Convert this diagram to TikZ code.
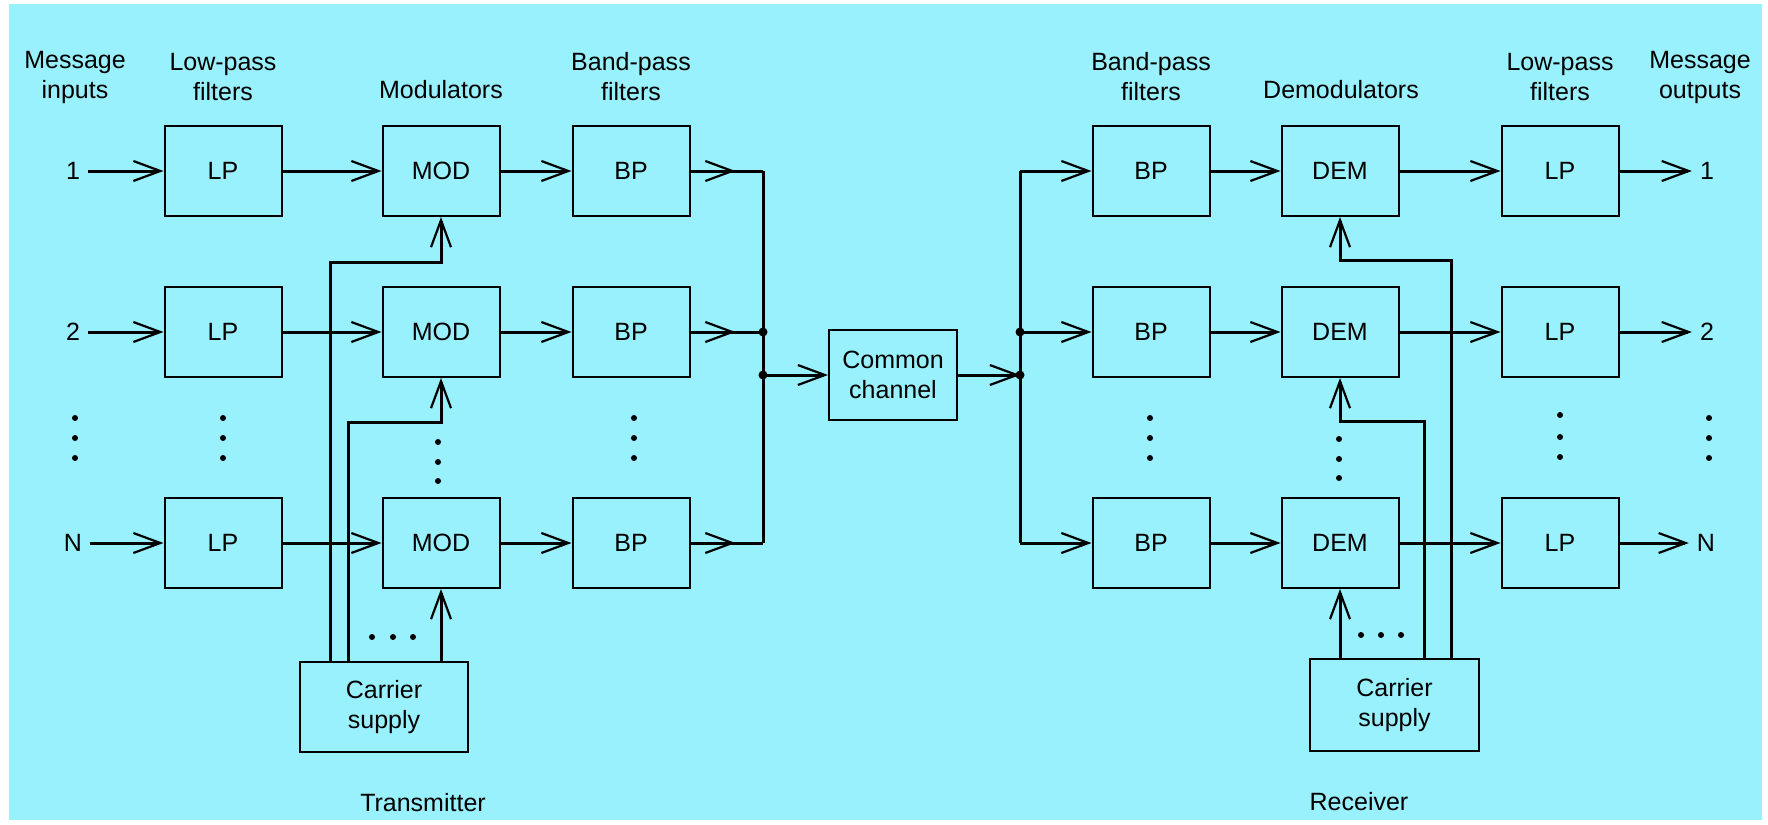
\documentclass[tikz,border=0pt]{standalone}
\usepackage{fontspec}
\setmainfont{Liberation Sans}
\usetikzlibrary{arrows.meta,decorations.markings}
\definecolor{bgc}{RGB}{153,241,253}
\newcommand{\tfnt}{\fontsize{25}{30}\selectfont}
\tikzset{
  blk/.style={draw, line width=2pt, minimum width=117pt, minimum height=90pt, inner sep=0pt, align=center, font=\tfnt},
  lbl/.style={align=center, font=\tfnt, inner sep=0pt},
  num/.style={font=\tfnt, inner ysep=0pt, inner xsep=8pt},
  ln/.style={line width=3pt},
  tip/.tip={Straight Barb[length=27pt,width=20pt,line width=2.2pt]},
  arr/.style={ln, -tip},
  midarr/.style={ln, postaction={decorate}, decoration={markings, mark=at position #1 with {\arrow{tip}}}},
  jdot/.style={fill, circle, inner sep=0pt, minimum size=9pt},
}
\begin{document}
\begin{tikzpicture}[x=1pt,y=-1pt]
\useasboundingbox (0,0) rectangle (1768,824);
\fill[white] (0,0) rectangle (1768,824);
\fill[bgc] (9,4) rectangle (1762,820);

% headings
\node[lbl] (hmi) at (75,77) {Message\\inputs};
\node[lbl] (hlp) at (223,77) {Low-pass\\filters};
\node[lbl] (hmod) at (441,90) {Modulators};
\node[lbl] (hbp) at (631,77) {Band-pass\\filters};
\node[lbl] (hbpr) at (1151,77) {Band-pass\\filters};
\node[lbl] (hdem) at (1341,90) {Demodulators};
\node[lbl] (hlpr) at (1560,77) {Low-pass\\filters};
\node[lbl] (hmo) at (1700,77) {Message\\outputs};

% input labels
\node[num] (in1) at (73,171) {1};
\node[num] (in2) at (73,332) {2};
\node[num] (inN) at (73,543) {N};
\node[num] (out1) at (1707,171) {1};
\node[num] (out2) at (1707,332) {2};
\node[num] (outN) at (1706,543) {N};

% transmitter and receiver blocks
\foreach \r/\y in {1/171,2/332,N/543}{
  \node[blk] (lp\r) at (223,\y) {LP};
  \node[blk] (mod\r) at (441,\y) {MOD};
  \node[blk] (bp\r) at (631,\y) {BP};
  \node[blk] (bpr\r) at (1151,\y) {BP};
  \node[blk] (dem\r) at (1340,\y) {DEM};
  \node[blk] (lpr\r) at (1560,\y) {LP};
}
\node[blk, minimum width=128pt] (cc) at (893,375) {Common\\channel};
\node[blk, minimum width=168pt] (cs1) at (384,707) {Carrier\\supply};
\node[blk, minimum width=169pt, minimum height=92pt] (cs2) at (1394.5,705) {Carrier\\supply};

\node[lbl] (tx) at (423,803) {Transmitter};
\node[lbl] (rx) at (1359,802) {Receiver};

% signal chains
\foreach \r in {1,2,N}{
  \draw[arr] (in\r.east) -- (lp\r.west);
  \draw[arr] (lp\r.east) -- (mod\r.west);
  \draw[arr] (mod\r.east) -- (bp\r.west);
  \draw[arr] (bpr\r.east) -- (dem\r.west);
  \draw[arr] (dem\r.east) -- (lpr\r.west);
  \draw[arr] (lpr\r.east) -- (out\r.west);
}

% combining junction
\coordinate (jt) at (763,171);
\coordinate (j2) at (763,332);
\coordinate (j3) at (763,375);
\coordinate (jb) at (763,543);
\draw[midarr=0.62] (bp1.east) -- (jt);
\draw[midarr=0.62] (bp2.east) -- (j2);
\draw[midarr=0.62] (bpN.east) -- (jb);
\draw[ln] (jt) -- (jb);
\draw[arr] (j3) -- (cc.west);
\node[jdot] at (j2) {};
\node[jdot] at (j3) {};

% splitting junction
\coordinate (kt) at (1020,171);
\coordinate (k2) at (1020,332);
\coordinate (k3) at (1020,375);
\coordinate (kb) at (1020,543);
\draw[arr] (cc.east) -- (k3);
\draw[ln] (kt) -- (kb);
\draw[arr] (kt) -- (bpr1.west);
\draw[arr] (k2) -- (bpr2.west);
\draw[arr] (kb) -- (bprN.west);
\node[jdot] at (k2) {};
\node[jdot] at (k3) {};

% transmitter carriers
\coordinate (c1) at (330,262);
\coordinate (c2) at (348,422);
\draw[arr] (cs1.north -| c1) -- (c1) -| (mod1.south);
\draw[arr] (cs1.north -| c2) -- (c2) -| (mod2.south);
\draw[arr] (cs1.north -| modN.south) -- (modN.south);

% receiver carriers
\coordinate (d1) at (1451,260);
\coordinate (d2) at (1424,421);
\draw[arr] (cs2.north -| d1) -- (d1) -| (dem1.south);
\draw[arr] (cs2.north -| d2) -- (d2) -| (dem2.south);
\draw[arr] (cs2.north -| demN.south) -- (demN.south);

% ellipsis dots
\foreach \x in {75,223,634,1150,1709}{
  \foreach \y in {418,438,458}{ \fill (\x,\y) circle (3pt); }
}
\foreach \y in {415,437,457}{ \fill (1560,\y) circle (3pt); }
\foreach \y in {442,462,481}{ \fill (438,\y) circle (3pt); }
\foreach \y in {439,459,478}{ \fill (1339,\y) circle (3pt); }
\foreach \x in {372,393,413}{ \fill (\x,637) circle (3pt); }
\foreach \x in {1361,1381,1401}{ \fill (\x,635) circle (3pt); }
\end{tikzpicture}
\end{document}
